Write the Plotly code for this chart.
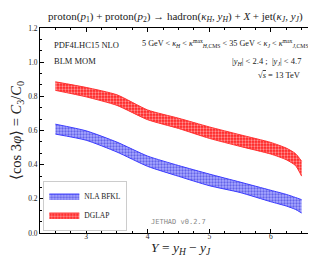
import plotly.graph_objects as go

Y = [2.5, 3.0, 3.5, 4.0, 4.5, 5.0, 5.5, 6.0, 6.25, 6.4, 6.5]
bfkl_hi = [0.637, 0.598, 0.532, 0.450, 0.395, 0.345, 0.298, 0.250, 0.226, 0.208, 0.195]
bfkl_lo = [0.579, 0.543, 0.474, 0.390, 0.332, 0.277, 0.237, 0.183, 0.158, 0.138, 0.117]
dglap_hi = [0.885, 0.852, 0.809, 0.720, 0.672, 0.621, 0.575, 0.530, 0.497, 0.465, 0.420]
dglap_lo = [0.835, 0.797, 0.747, 0.663, 0.612, 0.554, 0.507, 0.462, 0.429, 0.395, 0.333]

FONT = "Liberation Serif"
fig = go.Figure()

def band(lo, hi, name, line_c, bg, fg):
    fig.add_trace(go.Scatter(x=Y, y=lo, mode="lines", line=dict(color=line_c, width=1, shape="spline", smoothing=0.6),
                             showlegend=False, hoverinfo="skip", legendgroup=name))
    fig.add_trace(go.Scatter(x=Y, y=hi, mode="lines", name=name, fill="tonexty",
                             line=dict(color=line_c, width=1, shape="spline", smoothing=0.6),
                             fillcolor=bg,
                             fillpattern=dict(shape=".", bgcolor=bg, fgcolor=fg, size=3, solidity=0.45),
                             legendgroup=name))

band(bfkl_lo, bfkl_hi, "NLA BFKL", "#3b3bff", "#a8a8ff", "#1f1fd0")
band(dglap_lo, dglap_hi, "DGLAP", "#ff3030", "#ff2020", "#ffffff")

axis_common = dict(showline=True, linecolor="black", linewidth=1, mirror="ticks", ticks="inside",
                   ticklen=4, tickcolor="black", showgrid=False, zeroline=False,
                   tickfont=dict(family=FONT, size=7.5, color="#222"))
fig.update_xaxes(range=[2.25, 6.75], dtick=1, tick0=0, ticklabelstandoff=-4,
                 minor=dict(ticks="inside", ticklen=2, dtick=0.25, tick0=0, tickcolor="black"),
                 **axis_common)
fig.update_yaxes(range=[0, 1.2], dtick=0.2, tick0=0, tickformat=".1f",
                 minor=dict(ticks="inside", ticklen=2, dtick=0.2/3, tick0=0, tickcolor="black"),
                 title=dict(text="⟨cos 3<i>φ</i>⟩ = <i>C</i><sub>3</sub>/<i>C</i><sub>0</sub>",
                            font=dict(family=FONT, size=14.5, color="#222"), standoff=3),
                 **axis_common)

def ann(x, y, text, xanchor="left", size=7.5, color="#222", family=FONT):
    fig.add_annotation(x=x, y=y, xref="paper", yref="paper", text=text, showarrow=False,
                       xanchor=xanchor, yanchor="middle", font=dict(family=family, size=size, color=color))

ann(0.043, 0.917, "PDF4LHC15 NLO", size=8.5)
ann(0.043, 0.839, "BLM MOM", size=8.5)
ann(0.978, 0.922, "5 GeV &lt; <i>κ<sub>H</sub></i> &lt; <i>κ</i><sup>max</sup><sub><i>H</i>,CMS</sub> &lt; 35 GeV &lt; <i>κ<sub>J</sub></i> &lt; <i>κ</i><sup>max</sup><sub><i>J</i>,CMS</sub>", xanchor="right", size=8.2)
ann(0.95, 0.839, "|<i>y<sub>H</sub></i>| &lt; 2.4 ;  |<i>y<sub>J</sub></i>| &lt; 4.7", xanchor="right", size=8.5)
ann(0.95, 0.771, "√<span style='text-decoration:overline'><i>s</i></span> = 13 TeV", xanchor="right", size=8.5)
ann(0.5, 0.054, "JETHAD v0.2.7", xanchor="center", size=7, color="#888", family="DejaVu Sans Mono")
ann(0.51, -0.078, "<i>Y</i> = <i>y<sub>H</sub></i> − <i>y<sub>J</sub></i>", xanchor="center", size=13.5)
fig.add_annotation(x=0.49, y=1.0, xref="paper", yref="paper", yshift=11, showarrow=False,
                   text="proton(<i>p</i><sub>1</sub>) + proton(<i>p</i><sub>2</sub>) → hadron(<i>κ<sub>H</sub></i>, <i>y<sub>H</sub></i>) + <i>X</i> + jet(<i>κ<sub>J</sub></i>, <i>y<sub>J</sub></i>)",
                   font=dict(family=FONT, size=11, color="#222"), xanchor="center", yanchor="middle")

fig.update_layout(width=316, height=256, margin=dict(l=32, r=7, t=20, b=31),
                  paper_bgcolor="white", plot_bgcolor="white",
                  legend=dict(x=0.012, y=0.012, xanchor="left", yanchor="bottom",
                              bgcolor="white", bordercolor="#cccccc", borderwidth=1,
                              font=dict(family=FONT, size=7.5, color="#222"),
                              itemwidth=30, tracegroupgap=0))
fig.write_html("out.html")
